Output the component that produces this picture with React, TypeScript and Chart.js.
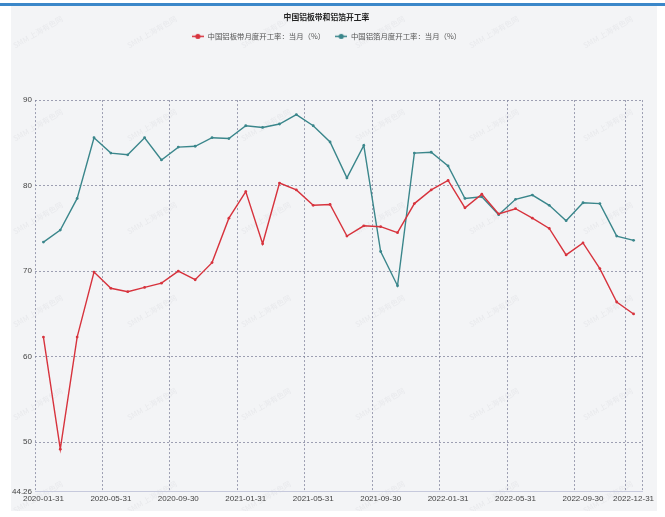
import React, { useEffect, useRef } from 'react';
import { Chart, registerables } from 'chart.js';

Chart.register(...registerables);

const categories = [
  '2020-01-31', '2020-02-29', '2020-03-31', '2020-04-30', '2020-05-31', '2020-06-30',
  '2020-07-31', '2020-08-31', '2020-09-30', '2020-10-31', '2020-11-30', '2020-12-31',
  '2021-01-31', '2021-02-28', '2021-03-31', '2021-04-30', '2021-05-31', '2021-06-30',
  '2021-07-31', '2021-08-31', '2021-09-30', '2021-10-31', '2021-11-30', '2021-12-31',
  '2022-01-31', '2022-02-28', '2022-03-31', '2022-04-30', '2022-05-31', '2022-06-30',
  '2022-07-31', '2022-08-31', '2022-09-30', '2022-10-31', '2022-11-30', '2022-12-31',
];

const sheetStripRate = [
  62.3, 49.2, 62.3, 69.9, 68.0, 67.6, 68.1, 68.6, 70.0, 69.0, 71.0, 76.2,
  79.3, 73.2, 80.3, 79.5, 77.7, 77.8, 74.1, 75.3, 75.2, 74.5, 77.9, 79.5,
  80.6, 77.4, 79.0, 76.7, 77.3, 76.2, 75.0, 71.9, 73.3, 70.3, 66.4, 65.0,
];

const foilRate = [
  73.4, 74.8, 78.5, 85.6, 83.8, 83.6, 85.6, 83.0, 84.5, 84.6, 85.6, 85.5,
  87.0, 86.8, 87.2, 88.3, 87.0, 85.1, 80.9, 84.7, 72.3, 68.3, 83.8, 83.9,
  82.3, 78.5, 78.7, 76.6, 78.4, 78.9, 77.7, 75.9, 78.0, 77.9, 74.1, 73.6,
];

const yTickValues = [44.26, 50, 60, 70, 80, 90];

const titleText = '中国铝板带和铝箔开工率';
const seriesNames = ['中国铝板带月度开工率：当月（%）', '中国铝箔月度开工率：当月（%）'];
const watermarkText = 'SMM 上海有色网';

const seriesColors = ['#d7333d', '#3a868b'];
const gridColor = 'rgba(120,122,150,0.7)';
const cjkFont = '"Noto Sans CJK SC", "Noto Sans", sans-serif';
const axisFont = '"Liberation Sans", Arial, sans-serif';

function makeMarker(color: string): HTMLCanvasElement {
  const c = document.createElement('canvas');
  c.width = 12;
  c.height = 7;
  const g = c.getContext('2d');
  if (g) {
    g.strokeStyle = color;
    g.lineWidth = 1.5;
    g.beginPath();
    g.moveTo(0, 3.5);
    g.lineTo(12, 3.5);
    g.stroke();
    g.fillStyle = color;
    g.beginPath();
    g.arc(6, 3.5, 2.6, 0, Math.PI * 2);
    g.fill();
  }
  return c;
}

const legendGap = {
  id: 'legendGap',
  beforeLayout(chart: any) {
    const legend = chart.legend;
    if (legend && !legend.__gapPatched) {
      const orig = legend.fit;
      legend.fit = function () {
        orig.call(this);
        this.height += 50;
      };
      legend.__gapPatched = true;
    }
  },
};

const watermark = {
  id: 'watermark',
  beforeDraw(chart: any) {
    const ctx = chart.ctx;
    ctx.save();
    ctx.fillStyle = 'rgba(120,120,130,0.09)';
    ctx.font = `7.5px ${cjkFont}`;
    ctx.textAlign = 'center';
    ctx.textBaseline = 'middle';
    for (let row = 0; row < 6; row++) {
      for (let col = 0; col < 6; col++) {
        const x = 27 + col * 114;
        const y = 26 + row * 93;
        ctx.save();
        ctx.translate(x, y);
        ctx.rotate(-Math.PI / 6);
        ctx.fillText(watermarkText, 0, 0);
        ctx.restore();
      }
    }
    ctx.restore();
  },
};

export default function App() {
  const canvasRef = useRef<HTMLCanvasElement | null>(null);

  useEffect(() => {
    document.body.style.margin = '0';
    const canvas = canvasRef.current;
    if (!canvas) return;
    const markers = seriesColors.map((c) => makeMarker(c));
    const lastIndex = categories.length - 1;
    const showTick = (i: number) => i % 4 === 0 || i === lastIndex;

    const chart = new Chart(canvas, {
      type: 'line',
      data: {
        labels: categories,
        datasets: [
          {
            label: seriesNames[0],
            data: sheetStripRate,
            borderColor: seriesColors[0],
            backgroundColor: seriesColors[0],
            borderWidth: 1.4,
            pointRadius: 1.4,
            pointHoverRadius: 1.4,
            pointBorderWidth: 0,
            tension: 0,
          },
          {
            label: seriesNames[1],
            data: foilRate,
            borderColor: seriesColors[1],
            backgroundColor: seriesColors[1],
            borderWidth: 1.4,
            pointRadius: 1.4,
            pointHoverRadius: 1.4,
            pointBorderWidth: 0,
            tension: 0,
          },
        ],
      },
      options: {
        animation: false,
        responsive: true,
        maintainAspectRatio: false,
        events: [],
        layout: { padding: { left: 0, right: 15, top: 0, bottom: 5 } },
        plugins: {
          title: {
            display: true,
            text: titleText,
            color: '#222',
            font: { family: cjkFont, size: 7.8, weight: 'bold', lineHeight: 1.2 },
            padding: { top: 6.3, bottom: 1 },
          },
          legend: {
            display: true,
            labels: {
              usePointStyle: true,
              pointStyleWidth: 12,
              boxHeight: 7,
              padding: 10,
              color: '#555',
              font: { family: cjkFont, size: 7.4 },
              generateLabels: (ch: any) =>
                (Chart.defaults.plugins.legend.labels.generateLabels as any)(ch).map(
                  (it: any, i: number) => ({ ...it, pointStyle: markers[i] })
                ),
            },
          },
          tooltip: { enabled: false },
        },
        scales: {
          x: {
            type: 'category',
            offset: true,
            grid: {
              offset: true,
              drawTicks: false,
              lineWidth: 1,
              color: (ctx: any) =>
                ctx.index === undefined || showTick(ctx.index) || ctx.index > lastIndex
                  ? gridColor
                  : 'transparent',
            },
            border: { display: true, color: '#c6c9dc', width: 1, dash: [2, 2] },
            ticks: {
              autoSkip: false,
              maxRotation: 0,
              minRotation: 0,
              padding: 2.5,
              color: '#444',
              font: { family: axisFont, size: 8 },
              callback: (_v: any, i: number) => (showTick(i) ? categories[i] : ''),
            },
          },
          y: {
            min: yTickValues[0],
            max: yTickValues[yTickValues.length - 1],
            afterBuildTicks: (s: any) => {
              s.ticks = yTickValues.map((v) => ({ value: v }));
            },
            afterFit: (s: any) => {
              s.width = 24;
            },
            grid: {
              drawTicks: false,
              lineWidth: 1,
              color: (ctx: any) =>
                ctx.tick && ctx.tick.value === yTickValues[0] ? 'transparent' : gridColor,
            },
            border: { display: false, dash: [2, 2] },
            ticks: {
              padding: 3,
              color: '#444',
              font: { family: axisFont, size: 8 },
              callback: (v: any) => String(v),
            },
          },
        },
      },
      plugins: [legendGap, watermark],
    } as any);

    return () => {
      chart.destroy();
    };
  }, []);

  return (
    <div
      style={{
        position: 'fixed',
        left: 0,
        top: 0,
        width: 665,
        height: 517,
        background: '#ffffff',
        overflow: 'hidden',
      }}
    >
      <div
        style={{ position: 'absolute', left: 0, top: 3, width: 665, height: 3, background: '#3b87c9' }}
      />
      <div
        style={{
          position: 'absolute',
          left: 11,
          top: 6,
          width: 646,
          height: 505,
          background: '#f3f4f6',
        }}
      >
        <canvas ref={canvasRef} />
      </div>
    </div>
  );
}
